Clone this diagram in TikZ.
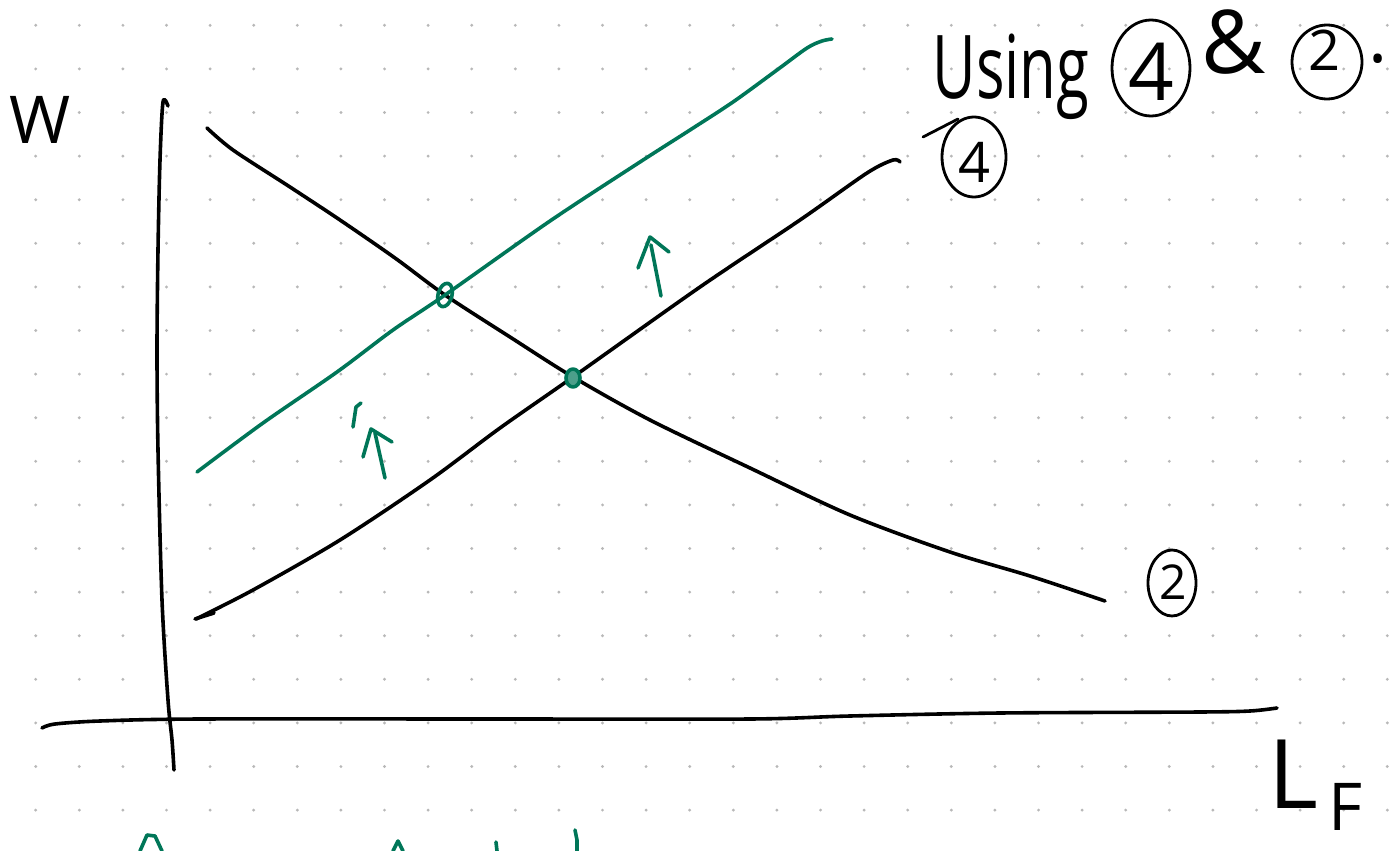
\documentclass[tikz,border=0pt]{standalone}
\usepackage{fontspec}
\setmainfont{Open Sans}
\usepackage{xcolor}
\definecolor{penGreen}{RGB}{0,118,88}

\begin{document}
\begin{tikzpicture}[
    x=0.5pt,
    y=-0.5pt,
    griddot/.style={
        fill=black!28,
        draw=none
    },
    penline/.style={
        draw=black,
        line width=1.8pt,
        line cap=round,
        line join=round
    },
    greenline/.style={
        draw=penGreen,
        line width=1.8pt,
        line cap=round,
        line join=round
    },
    ringline/.style={
        draw=black,
        line width=1.4pt
    },
    handtext/.style={
        inner sep=0pt,
        text=black
    }
]

\useasboundingbox (0,0) rectangle (1393,851);

% =========================================================
% Dotted paper
% =========================================================
\foreach \i in {0,...,31}{
    \foreach \j in {0,...,18}{
        \fill[griddot] ({35.7+43.6*\i},{25.3+43.6*\j}) circle (0.8pt);
    }
}

% =========================================================
% Axes
% =========================================================
\draw[penline] plot[smooth] coordinates {
    (168,106) (163,102) (160,160) (158,250) (157,350) (158,450)
    (162,600) (168,700) (172,740) (174,770)};

\draw[penline] plot[smooth] coordinates {
    (42,728) (55,724) (100,721) (200,719) (500,719) (750,719)
    (850,716) (1000,713) (1200,712) (1250,711) (1277,708)};

% =========================================================
% Curves
% =========================================================
% curve 2
\draw[penline] plot[smooth] coordinates {
    (207,128) (233,150) (290,187) (340,220) (395,258) (445,295)
    (510,337) (573,377) (650,420) (750,468) (850,515) (950,552)
    (1030,576) (1105,601)};

% curve 4
\draw[penline] (195,619) -- (214,613);
\draw[penline] plot[smooth] coordinates {
    (196,619) (253,590) (340,540) (430,480) (500,428) (573,377)
    (700,287) (800,220) (867,173) (893,160) (900,162)};

% shifted curve 4
\draw[greenline] plot[smooth] coordinates {
    (197,472) (263,423) (337,372) (393,330) (445,295) (550,221)
    (640,162) (690,130) (733,102) (777,70) (807,48) (822,41) (832,39)};

% =========================================================
% Intersections and shift arrows
% =========================================================
\draw[greenline, rotate around={-15:(445,295)}] (445,295) ellipse [x radius=3.5pt, y radius=6pt];
\draw[greenline, fill=penGreen!70] (573,378) ellipse [x radius=3.5pt, y radius=4.5pt];

\draw[greenline] (661,296) -- (651,245);
\draw[greenline] (638,268) -- (650,237) -- (669,252);

\draw[greenline] (385,478) -- (375,433);
\draw[greenline] (363,457) -- (371,429) -- (392,442);
\draw[greenline] (353,427) -- (356,407) -- (361,403);

% arrow tips cut off at the bottom edge
\draw[greenline] (140,851) -- (147,835) -- (155,836) -- (162,851);
\draw[greenline] (393,851) -- (398,841) -- (403,851);
\draw[greenline] (496,842) -- (497,851);
\draw[greenline] (575,830) -- (577,840) -- (577,851);

% =========================================================
% Labels
% =========================================================
\node[handtext, font=\fontsize{33}{33}\selectfont] (wlbl) at (40,120) {W};

\node[handtext, font=\fontsize{48}{48}\selectfont, anchor=base] (lbl) at (1293,808) {L};
\node[handtext, font=\fontsize{33}{33}\selectfont, anchor=base] (flbl) at (1346,830) {F};

\node[handtext, font=\fontsize{28}{28}\selectfont] (four) at (974,162) {4};
\draw[ringline] (974,157) ellipse [x radius=16pt, y radius=20pt];
\draw[ringline, line cap=round] (923,137) -- (958,119);

\node[handtext, font=\fontsize{24}{24}\selectfont] (two) at (1173,582) {2};
\draw[ringline] (1172,583) ellipse [x radius=12pt, y radius=16.5pt];

% =========================================================
% Heading
% =========================================================
\node[handtext, font=\fontsize{44}{44}\selectfont, anchor=base] (using) at (1011,98)
{\scalebox{0.68}[1]{Using}};

\node[handtext, font=\fontsize{40}{40}\selectfont] (fourb) at (1151,72) {4};
\draw[ringline] (1151,68) ellipse [x radius=19.5pt, y radius=24pt];

\node[handtext, font=\fontsize{44}{44}\selectfont, anchor=base] (amp) at (1234,73) {\&};

\node[handtext, font=\fontsize{28}{28}\selectfont] (twob) at (1324,50) {2};
\draw[ringline] (1327,62) ellipse [x radius=17.5pt, y radius=18.5pt];

\node[handtext, font=\fontsize{36}{36}\selectfont, anchor=base] (dot) at (1378,62) {.};

\end{tikzpicture}
\end{document}
